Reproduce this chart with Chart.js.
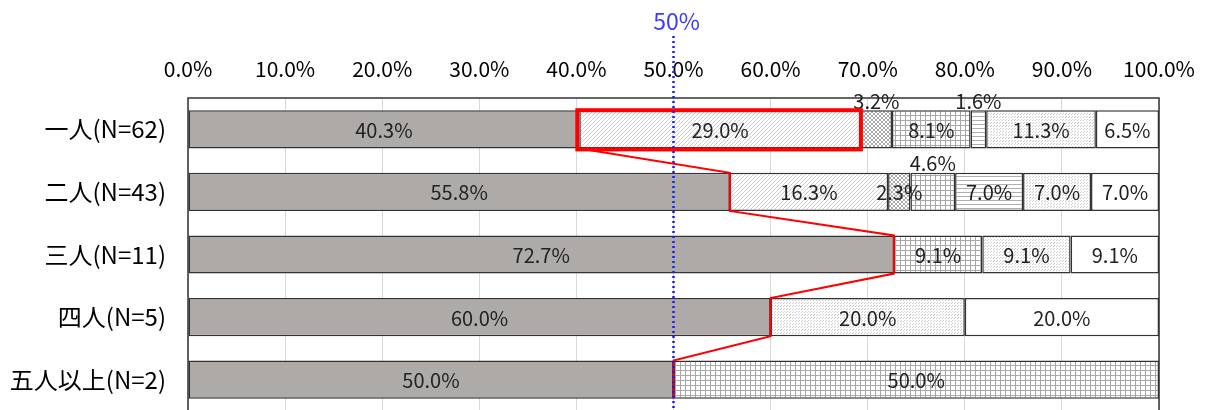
<!DOCTYPE html>
<html>
<head>
<meta charset="utf-8">
<script src="https://cdn.jsdelivr.net/npm/chart.js@4/dist/chart.umd.min.js"></script>
<style>
  html, body { margin: 0; padding: 0; background: #fff; overflow: hidden; }
</style>
</head>
<body>
<canvas id="myChart" width="1208" height="414"></canvas>
<script>
// data
const categories = ['一人(N=62)', '二人(N=43)', '三人(N=11)', '四人(N=5)', '五人以上(N=2)'];
const s1 = [40.3, 55.8, 72.7, 60.0, 50.0];
const s2 = [29.0, 16.3, null, null, null];
const s3 = [3.2, 2.3, null, null, null];
const s4 = [8.1, 4.6, 9.1, null, 50.0];
const s5 = [1.6, 7.0, null, null, null];
const s6 = [11.3, 7.0, 9.1, 20.0, null];
const s7 = [6.5, 7.0, 9.1, 20.0, null];
const xTicks = [0, 10, 20, 30, 40, 50, 60, 70, 80, 90, 100];
const refValue = 50;
const refLabel = '50%';
// [row, series] whose label sits above the bar
const aboveLabels = [[0, 2], [0, 4], [1, 3]];

const FONT = "'Noto Sans CJK JP', 'Noto Sans', sans-serif";
const canvas = document.querySelector('#myChart');
const ctx = canvas.getContext('2d');

const makePattern = (size, draw) => {
  const c = document.createElement('canvas');
  c.width = size;
  c.height = size;
  const g = c.getContext('2d');
  g.fillStyle = '#fff';
  g.fillRect(0, 0, size, size);
  draw(g);
  return ctx.createPattern(c, 'repeat');
};

const diagPattern = makePattern(4, (g) => {
  g.fillStyle = '#cdcdcd';
  for (let i = 0; i < 4; i++) g.fillRect(i, 3 - i, 1, 1);
});
const crossPattern = makePattern(4, (g) => {
  g.fillStyle = '#acacac';
  for (let i = 0; i < 4; i++) {
    g.fillRect(i, 3 - i, 1, 1);
    g.fillRect(i, i, 1, 1);
  }
});
const gridPattern = makePattern(5, (g) => {
  g.fillStyle = '#a8a8a8';
  g.fillRect(0, 0, 5, 1);
  g.fillRect(0, 0, 1, 5);
});
const hLinePattern = makePattern(4, (g) => {
  g.fillStyle = '#b0b0b0';
  g.fillRect(0, 0, 4, 1);
});
const dotPattern = makePattern(3, (g) => {
  g.fillStyle = '#cccccc';
  g.fillRect(0, 0, 1, 1);
  g.fillRect(1, 2, 1, 1);
});

const series = [s1, s2, s3, s4, s5, s6, s7];
const fills = ['#aeaaa8', diagPattern, crossPattern, gridPattern, hLinePattern, dotPattern, '#ffffff'];

const overlayPlugin = {
  id: 'overlay',
  beforeDatasetsDraw(chart) {
    const a = chart.chartArea;
    const c = chart.ctx;
    c.save();
    c.strokeStyle = '#333';
    c.lineWidth = 1.5;
    c.strokeRect(a.left, a.top, a.right - a.left, a.bottom - a.top);
    c.restore();
  },
  afterDatasetsDraw(chart) {
    const c = chart.ctx;
    const xs = chart.scales.x;

    // labels
    c.save();
    c.font = '20px ' + FONT;
    c.fillStyle = '#222';
    c.textAlign = 'center';
    c.textBaseline = 'middle';
    series.forEach((data, d) => {
      const meta = chart.getDatasetMeta(d);
      data.forEach((v, i) => {
        if (v === null) return;
        const el = meta.data[i];
        const cx = (el.x + el.base) / 2;
        let cy = el.y + 1;
        if (aboveLabels.some(([r, s]) => r === i && s === d)) {
          cy = el.y - el.height / 2 - 9;
        }
        c.fillText(v.toFixed(1) + '%', cx, cy);
      });
    });
    c.restore();

    // red polyline through the ends of the first series
    const m0 = chart.getDatasetMeta(0);
    c.save();
    c.strokeStyle = '#ff0000';
    c.lineWidth = 2;
    c.beginPath();
    m0.data.forEach((el, i) => {
      const top = el.y - el.height / 2;
      const bottom = el.y + el.height / 2;
      if (i === 0) {
        c.moveTo(el.x, bottom);
      } else {
        c.lineTo(el.x, top);
        c.lineTo(el.x, bottom);
      }
    });
    c.stroke();

    // red box round the first row's second segment
    const box = chart.getDatasetMeta(1).data[0];
    const bt = box.y - box.height / 2;
    c.lineWidth = 4;
    c.strokeRect(box.base - 2, bt, box.x - box.base + 2, box.height + 1);
    c.restore();

    // blue dotted reference line
    const rx = xs.getPixelForValue(refValue);
    c.save();
    c.strokeStyle = '#1a1aff';
    c.lineWidth = 2.5;
    c.setLineDash([2, 3]);
    c.beginPath();
    c.moveTo(rx, 36);
    c.lineTo(rx, chart.height);
    c.stroke();
    c.setLineDash([]);
    c.fillStyle = '#3b3bff';
    c.font = '23px ' + FONT;
    c.textAlign = 'center';
    c.textBaseline = 'middle';
    c.fillText(refLabel, rx + 3, 21);
    c.restore();
  }
};

const myChart = new Chart(ctx, {
  type: 'bar',
  data: {
    labels: categories,
    datasets: series.map((data, d) => ({
      label: 'S' + (d + 1),
      data: data,
      backgroundColor: fills[d],
      borderColor: '#333',
      borderWidth: 1.5,
      borderSkipped: false,
      barPercentage: 0.61,
      categoryPercentage: 1
    }))
  },
  options: {
    indexAxis: 'y',
    responsive: false,
    animation: false,
    devicePixelRatio: 1,
    layout: { padding: { left: 0, right: 49, top: 0, bottom: 3 } },
    plugins: {
      legend: { display: false },
      tooltip: { enabled: false }
    },
    scales: {
      x: {
        position: 'top',
        stacked: true,
        min: 0,
        max: 100,
        afterBuildTicks: (s) => { s.ticks = xTicks.map((v) => ({ value: v })); },
        afterFit: (s) => {
          s.height = 98;
          s.paddingLeft = 0;
          s.paddingRight = 0;
        },
        ticks: {
          autoSkip: false,
          maxRotation: 0,
          padding: 16,
          color: '#000',
          font: { family: FONT, size: 21 },
          callback: (v) => Number(v).toFixed(1) + '%'
        },
        grid: { color: '#d9d9d9', lineWidth: 1, drawTicks: false },
        border: { display: false }
      },
      y: {
        stacked: true,
        afterFit: (s) => {
          s.width = 188;
          s.paddingTop = 0;
          s.paddingBottom = 0;
        },
        ticks: {
          padding: 22,
          color: '#000',
          font: { family: FONT, size: 24 }
        },
        grid: { display: false, drawTicks: false },
        border: { display: false }
      }
    }
  },
  plugins: [overlayPlugin]
});
</script>
</body>
</html>
